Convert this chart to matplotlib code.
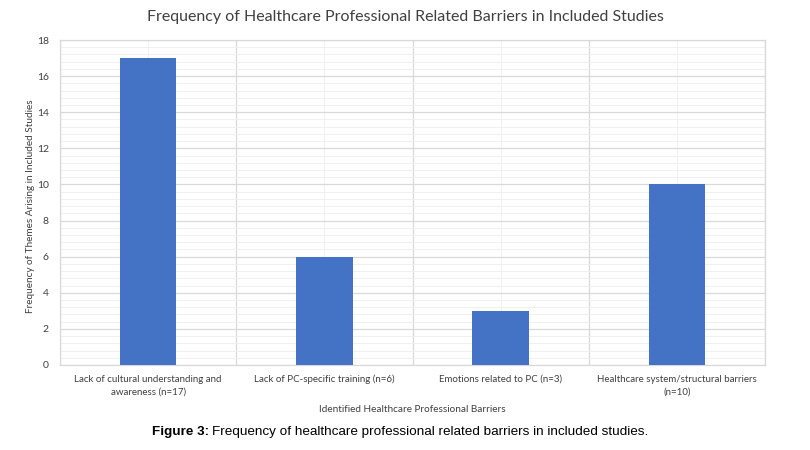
import numpy as np
import matplotlib.pyplot as plt
from matplotlib.ticker import MultipleLocator

categories = ['Lack of cultural understanding and\nawareness (n=17)',
              'Lack of PC-specific training (n=6)',
              'Emotions related to PC (n=3)',
              'Healthcare system/structural barriers\n(n=10)']
counts = [17, 6, 3, 10]

plt.rcParams['font.family'] = ['Lato', 'DejaVu Sans']

fig = plt.figure(figsize=(8.1, 4.5), dpi=100)
ax = fig.add_axes([60 / 810, 85 / 450, 705 / 810, 325 / 450])

x = np.arange(len(categories))
ax.bar(x, counts, width=0.32, color='#4472C4', zorder=3)

ax.set_xlim(-0.5, len(categories) - 0.5)
ax.set_ylim(0, 18)
ax.yaxis.set_major_locator(MultipleLocator(2))
ax.yaxis.set_minor_locator(MultipleLocator(0.4))
ax.set_xticks(x)
ax.set_xticklabels(categories, fontsize=7, color='#404040', linespacing=1.5)
ax.set_xticks(np.arange(-0.5, len(categories)), minor=True)
ax.tick_params(axis='both', which='both', length=0)
ax.tick_params(axis='y', labelsize=7.5, colors='#404040', pad=8)
ax.tick_params(axis='x', pad=7)

ax.grid(axis='y', which='major', color='#d9d9d9', linewidth=0.9, zorder=0)
ax.grid(axis='y', which='minor', color='#f0f0f0', linewidth=0.7, zorder=0)
ax.grid(axis='x', which='minor', color='#d9d9d9', linewidth=0.9, zorder=0)
ax.grid(axis='x', which='major', color='#f0f0f0', linewidth=0.7, zorder=0)
for s in ax.spines.values():
    s.set_color('#d9d9d9')
    s.set_linewidth(0.9)

ax.set_ylabel('Frequency of Themes Arising in Included Studies', fontsize=7.2,
              color='#404040')
ax.yaxis.set_label_coords(-25 / 705, 0.49)
ax.set_xlabel('Identified Healthcare Professional Barriers', fontsize=7.2,
              color='#404040', labelpad=6)

fig.suptitle('Frequency of Healthcare Professional Related Barriers in Included Studies',
             y=1 - 17 / 450, va='center', fontsize=11.5, color='#404040')

# caption: bold "Figure 3:" followed by normal text
cap_y = 1 - 432 / 450
t1 = fig.text(152 / 810, cap_y, 'Figure 3:', ha='left', va='center', fontsize=9.7,
              fontweight='bold', family='Liberation Sans')
fig.canvas.draw()
bb = t1.get_window_extent()
fig.text(bb.x1 / 810 + 3 / 810, cap_y,
         'Frequency of healthcare professional related barriers in included studies.',
         ha='left', va='center', fontsize=9.7, family='Liberation Sans')

fig.savefig('out.png', dpi=100)
